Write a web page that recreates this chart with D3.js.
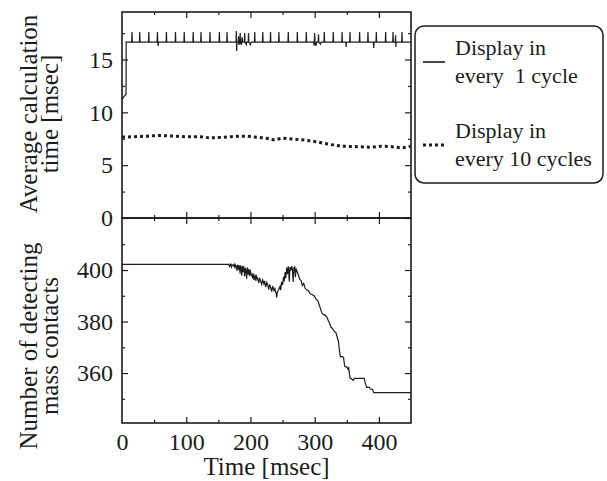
<!DOCTYPE html>
<html>
<head>
<meta charset="utf-8">
<script src="https://cdn.jsdelivr.net/npm/d3@7"></script>
<style>
  body { margin: 0; background: #fff; }
  svg text { font-family: "Liberation Serif", "Times New Roman", serif; fill: #1c1c1c; }
</style>
</head>
<body>
<svg id="chart" width="607" height="481"></svg>
<script>
// Average calculation time, display every 1 cycle [time msec, value msec]
const everyCycle = [
  [0, 11.2], [3, 11.5], [6.3, 11.7], [6.5, 16.65],
  [15.1, 16.65], [15.6, 17.6], [16.1, 16.65],
  [27.1, 16.65], [27.6, 17.6], [28.1, 16.65],
  [41.2, 16.65], [41.7, 17.6], [42.2, 16.65],
  [54.7, 16.65], [55.2, 17.6], [55.7, 16.65], [56.5, 16.3], [57, 16.65],
  [68.7, 16.65], [69.2, 17.6], [69.7, 16.65],
  [82.8, 16.65], [83.3, 17.6], [83.8, 16.65],
  [96.4, 16.65], [96.9, 17.6], [97.4, 16.65],
  [110.4, 16.65], [110.9, 17.6], [111.4, 16.65],
  [122.5, 16.65], [123, 17.6], [123.5, 16.65],
  [136.5, 16.65], [137, 17.6], [137.5, 16.65],
  [151.1, 16.65], [151.6, 17.6], [152.1, 16.65],
  [163.1, 16.65], [163.6, 17.6], [164.1, 16.65],
  [177.5, 16.65], [178, 17.7], [178.5, 15.8], [179, 16.65],
  [181, 16.65], [181.5, 17.2], [182, 16.4], [183.5, 16.65], [184, 17.5], [184.5, 16.65],
  [186, 16.4], [187, 17.1], [188, 16.65],
  [190.5, 16.65], [191, 17.5], [191.5, 16.65], [193.5, 16.4], [194, 16.65],
  [196.5, 16.65], [197, 17.5], [197.5, 16.65], [200, 16.4], [201, 16.65],
  [206.2, 16.65], [206.7, 17.6], [207.2, 16.65],
  [218.7, 16.65], [219.2, 17.6], [219.7, 16.65],
  [230.8, 16.65], [231.3, 17.6], [231.8, 16.65],
  [243.8, 16.65], [244.3, 17.6], [244.8, 16.65],
  [258.4, 16.65], [258.9, 17.6], [259.4, 16.65],
  [272.5, 16.65], [273, 17.6], [273.5, 16.65],
  [286.5, 16.65], [287, 17.6], [287.5, 16.65],
  [298.5, 16.65], [299, 16.3], [300, 17.5], [300.5, 16.65], [302, 16.3], [303, 16.65],
  [305.5, 16.65], [306, 17.4], [306.5, 16.65], [309, 16.45], [310, 16.65],
  [314.5, 16.65], [315, 17.6], [315.5, 16.65],
  [328.5, 16.65], [329, 17.6], [329.5, 16.65],
  [342.2, 16.65], [342.7, 17.6], [343.2, 16.65],
  [348.5, 16.65], [349, 16.2], [349.5, 16.65], [354.5, 16.65], [355, 17.6], [355.5, 16.65],
  [369.5, 16.65], [370, 17.6], [370.5, 16.65],
  [382.5, 16.65], [383, 17.6], [383.5, 16.65],
  [391.5, 16.65], [392, 16.1], [392.5, 16.65], [395.5, 16.65], [396, 17.6], [396.5, 16.65],
  [410, 16.65], [410.5, 17.6], [411, 16.65],
  [421.5, 16.65], [422, 17.6], [422.5, 16.65],
  [425.5, 16.65], [426, 17.3], [426.5, 16.2], [427, 16.65],
  [435.5, 16.65], [436, 17.6], [436.5, 16.65],
  [450, 16.65]
];

// Average calculation time, display every 10 cycles
const everyTenCycles = [
  [0, 7.65], [20, 7.7], [40, 7.75], [57, 7.8], [80, 7.75], [100, 7.7], [120, 7.7],
  [137, 7.6], [160, 7.65], [187, 7.75], [210, 7.65], [225, 7.55], [237, 7.4],
  [250, 7.55], [270, 7.45], [300, 7.25], [320, 7.0], [345, 6.8], [370, 6.75],
  [387, 6.7], [405, 6.8], [420, 6.75], [435, 6.65], [450, 6.8]
];

// Number of detecting mass contacts [time msec, count]
const contacts = [
  [0, 402.2], [166, 402.2], [167.5, 401.4], [168.5, 402.2], [170.5, 401.2], [171, 402.1],
  [173, 401.6], [174.5, 402.2], [176, 400.6], [176.5, 402], [178.5, 401.2], [179, 399.6],
  [180, 402], [181.5, 400.2], [182, 401.9], [184, 398.6], [184.5, 401.8], [186, 400.5],
  [186.5, 397.8], [187.5, 401.6], [189, 399.2], [189.5, 401.5], [191, 397.6], [192, 400.8],
  [193.5, 398.8], [194, 396.6], [195, 401], [196.5, 398.2], [197, 400.4], [199, 397.6],
  [199.5, 400.2], [201, 398.4], [203, 397.2], [204, 398.8], [205.5, 396.2], [207, 398.2],
  [208.5, 395.8], [209.5, 397.6], [211.5, 396.4], [213, 395], [214, 397], [216, 395.6],
  [217.5, 394.4], [219, 396.2], [221, 394.6], [222, 395.8], [224, 393.4], [225.5, 395.2],
  [227.5, 393.8], [228.5, 392.4], [230, 394.4], [232, 392.8], [233, 391.6], [234.5, 393.8],
  [236.5, 392], [238, 392.8], [240, 390.8], [241, 389.4], [242, 391.6], [244, 392.4],
  [246, 393.6], [247, 392.2], [248.5, 395.4], [250, 394.2], [251.5, 397.4], [252.5, 395.6],
  [254, 399.2], [255, 396.8], [256.5, 401], [257.5, 398.4], [259, 401.4], [260.5, 395.6],
  [261.5, 401.2], [263, 400.2], [264.5, 401.5], [265.5, 399.6], [266.5, 395.4], [267.5, 400.8],
  [269, 401.2], [270, 397.2], [271, 400.6], [272.5, 399.4], [274, 398.6], [275.5, 397.4],
  [277, 396.4], [279, 395.8], [281, 394], [283, 394.8], [285, 393], [288, 392.2], [291, 391.8],
  [293, 390.8], [296, 390.5], [299, 390], [302, 388.8], [305, 388], [307, 386.5],
  [309, 385], [311, 383.5], [313, 382.8], [316, 382.5], [319, 381.7], [321, 380.5],
  [323, 379.5], [325, 378], [328, 377.2], [331, 376], [333, 375.8], [335, 374],
  [337, 372.3], [338, 370], [339, 368], [340, 366.3], [343, 366.5], [345, 366],
  [346, 364], [347, 362.5], [350, 362.3], [352, 361.5], [353, 362], [354, 360],
  [355, 358], [357, 357.9], [360, 357.2], [362, 357.9], [377, 357.9], [379, 356],
  [381, 354.4], [385, 354.4], [387, 353.7], [390, 353.7], [392, 352.4], [450, 352.4]
];

const timeMajor = [0, 100, 200, 300, 400];
const timeMinor = [50, 150, 250, 350];
const calcMajor = [0, 5, 10, 15];
const calcMinor = [2.5, 7.5, 12.5, 17.5];
const contactMajor = [360, 380, 400];
const contactMinor = [350, 370, 390, 410];

const legendItems = [
  { lines: ["Display in", "every  1 cycle"], dash: null },
  { lines: ["Display in", "every 10 cycles"], dash: "3,3" }
];

const plotLeft = 122, plotRight = 411, plotTop = 12, plotMid = 218, plotBottom = 423;
const ink = "#1c1c1c";

const svg = d3.select("#chart");

const x = d3.scaleLinear().domain([0, 450]).range([plotLeft, plotRight]);
const yTop = d3.scaleLinear().domain([0, 19.5]).range([plotMid, plotTop]);
const yBot = d3.scaleLinear().domain([340.6, 420.2]).range([plotBottom, plotMid]);

function drawTicks(g) {
  g.selectAll(".domain").remove();
  g.selectAll("line").attr("stroke", ink).attr("stroke-width", 1.2);
  g.selectAll("text").style("font-size", "24px").attr("fill", ink);
}

function panelAxes(y, major, minor, y0, y1) {
  // left axis with labels
  svg.append("g").attr("transform", `translate(${plotLeft},0)`)
    .call(d3.axisLeft(y).tickValues(major).tickSize(-6).tickPadding(9).tickFormat(d3.format("d")))
    .call(drawTicks);
  svg.append("g").attr("transform", `translate(${plotLeft},0)`)
    .call(d3.axisLeft(y).tickValues(minor).tickSize(-3).tickFormat(""))
    .call(drawTicks);
  // right axis, inward
  svg.append("g").attr("transform", `translate(${plotRight},0)`)
    .call(d3.axisRight(y).tickValues(major).tickSize(-6).tickFormat(""))
    .call(drawTicks);
  svg.append("g").attr("transform", `translate(${plotRight},0)`)
    .call(d3.axisRight(y).tickValues(minor).tickSize(-3).tickFormat(""))
    .call(drawTicks);
  // top and bottom edges, inward
  svg.append("g").attr("transform", `translate(0,${y0})`)
    .call(d3.axisTop(x).tickValues(timeMajor.slice(1)).tickSize(-6).tickFormat(""))
    .call(drawTicks);
  svg.append("g").attr("transform", `translate(0,${y0})`)
    .call(d3.axisTop(x).tickValues(timeMinor).tickSize(-3).tickFormat(""))
    .call(drawTicks);
  svg.append("g").attr("transform", `translate(0,${y1})`)
    .call(d3.axisBottom(x).tickValues(timeMajor.slice(1)).tickSize(-6).tickFormat(""))
    .call(drawTicks);
  svg.append("g").attr("transform", `translate(0,${y1})`)
    .call(d3.axisBottom(x).tickValues(timeMinor).tickSize(-3).tickFormat(""))
    .call(drawTicks);
  svg.append("rect")
    .attr("x", plotLeft).attr("y", y0)
    .attr("width", plotRight - plotLeft).attr("height", y1 - y0)
    .attr("fill", "none").attr("stroke", ink).attr("stroke-width", 1.6);
}

panelAxes(yTop, calcMajor, calcMinor, plotTop, plotMid);
panelAxes(yBot, contactMajor, contactMinor, plotMid, plotBottom);

// x tick labels
svg.append("g").attr("transform", `translate(0,${plotBottom})`)
  .call(d3.axisBottom(x).tickValues(timeMajor).tickSize(0).tickPadding(10).tickFormat(d3.format("d")))
  .call(drawTicks);

// series
const lineTop = d3.line().x(d => x(d[0])).y(d => yTop(d[1]));
const lineBot = d3.line().x(d => x(d[0])).y(d => yBot(d[1]));

svg.append("path").datum(everyCycle)
  .attr("d", lineTop).attr("fill", "none")
  .attr("stroke", ink).attr("stroke-width", 1.2);

svg.append("path").datum(everyTenCycles)
  .attr("d", d3.line().curve(d3.curveMonotoneX).x(d => x(d[0])).y(d => yTop(d[1])))
  .attr("fill", "none").attr("stroke", ink)
  .attr("stroke-width", 3).attr("stroke-dasharray", "3,3");

svg.append("path").datum(contacts)
  .attr("d", lineBot).attr("fill", "none")
  .attr("stroke", ink).attr("stroke-width", 1.2);

// axis titles
svg.append("text")
  .attr("x", x(225)).attr("y", 475)
  .attr("text-anchor", "middle").style("font-size", "25px")
  .text("Time [msec]");

function yTitle(lines, cy) {
  const t = svg.append("text")
    .attr("transform", `translate(0,${cy}) rotate(-90)`)
    .attr("text-anchor", "middle").style("font-size", "25px");
  t.selectAll("tspan").data(lines).join("tspan")
    .attr("x", 0).attr("y", (d, i) => 37 + i * 21)
    .text(d => d);
}
yTitle(["Average calculation", "time [msec]"], 114);
yTitle(["Number of detecting", "mass contacts"], 346);

// legend
const legend = svg.append("g");
legend.append("rect")
  .attr("x", 415).attr("y", 26).attr("width", 188).attr("height", 157)
  .attr("rx", 9).attr("fill", "#fff").attr("stroke", ink).attr("stroke-width", 1.5);

legendItems.forEach((item, i) => {
  const y0 = 55 + i * 83;
  legend.append("line")
    .attr("x1", 423).attr("x2", 445)
    .attr("y1", y0 + 7).attr("y2", y0 + 7)
    .attr("stroke", ink)
    .attr("stroke-width", item.dash ? 3 : 1.6)
    .attr("stroke-dasharray", item.dash);
  item.lines.forEach((s, j) => {
    legend.append("text")
      .attr("x", 455).attr("y", y0 + j * 28)
      .style("font-size", "22px")
      .style("white-space", "pre")
      .text(s);
  });
});
</script>
</body>
</html>
